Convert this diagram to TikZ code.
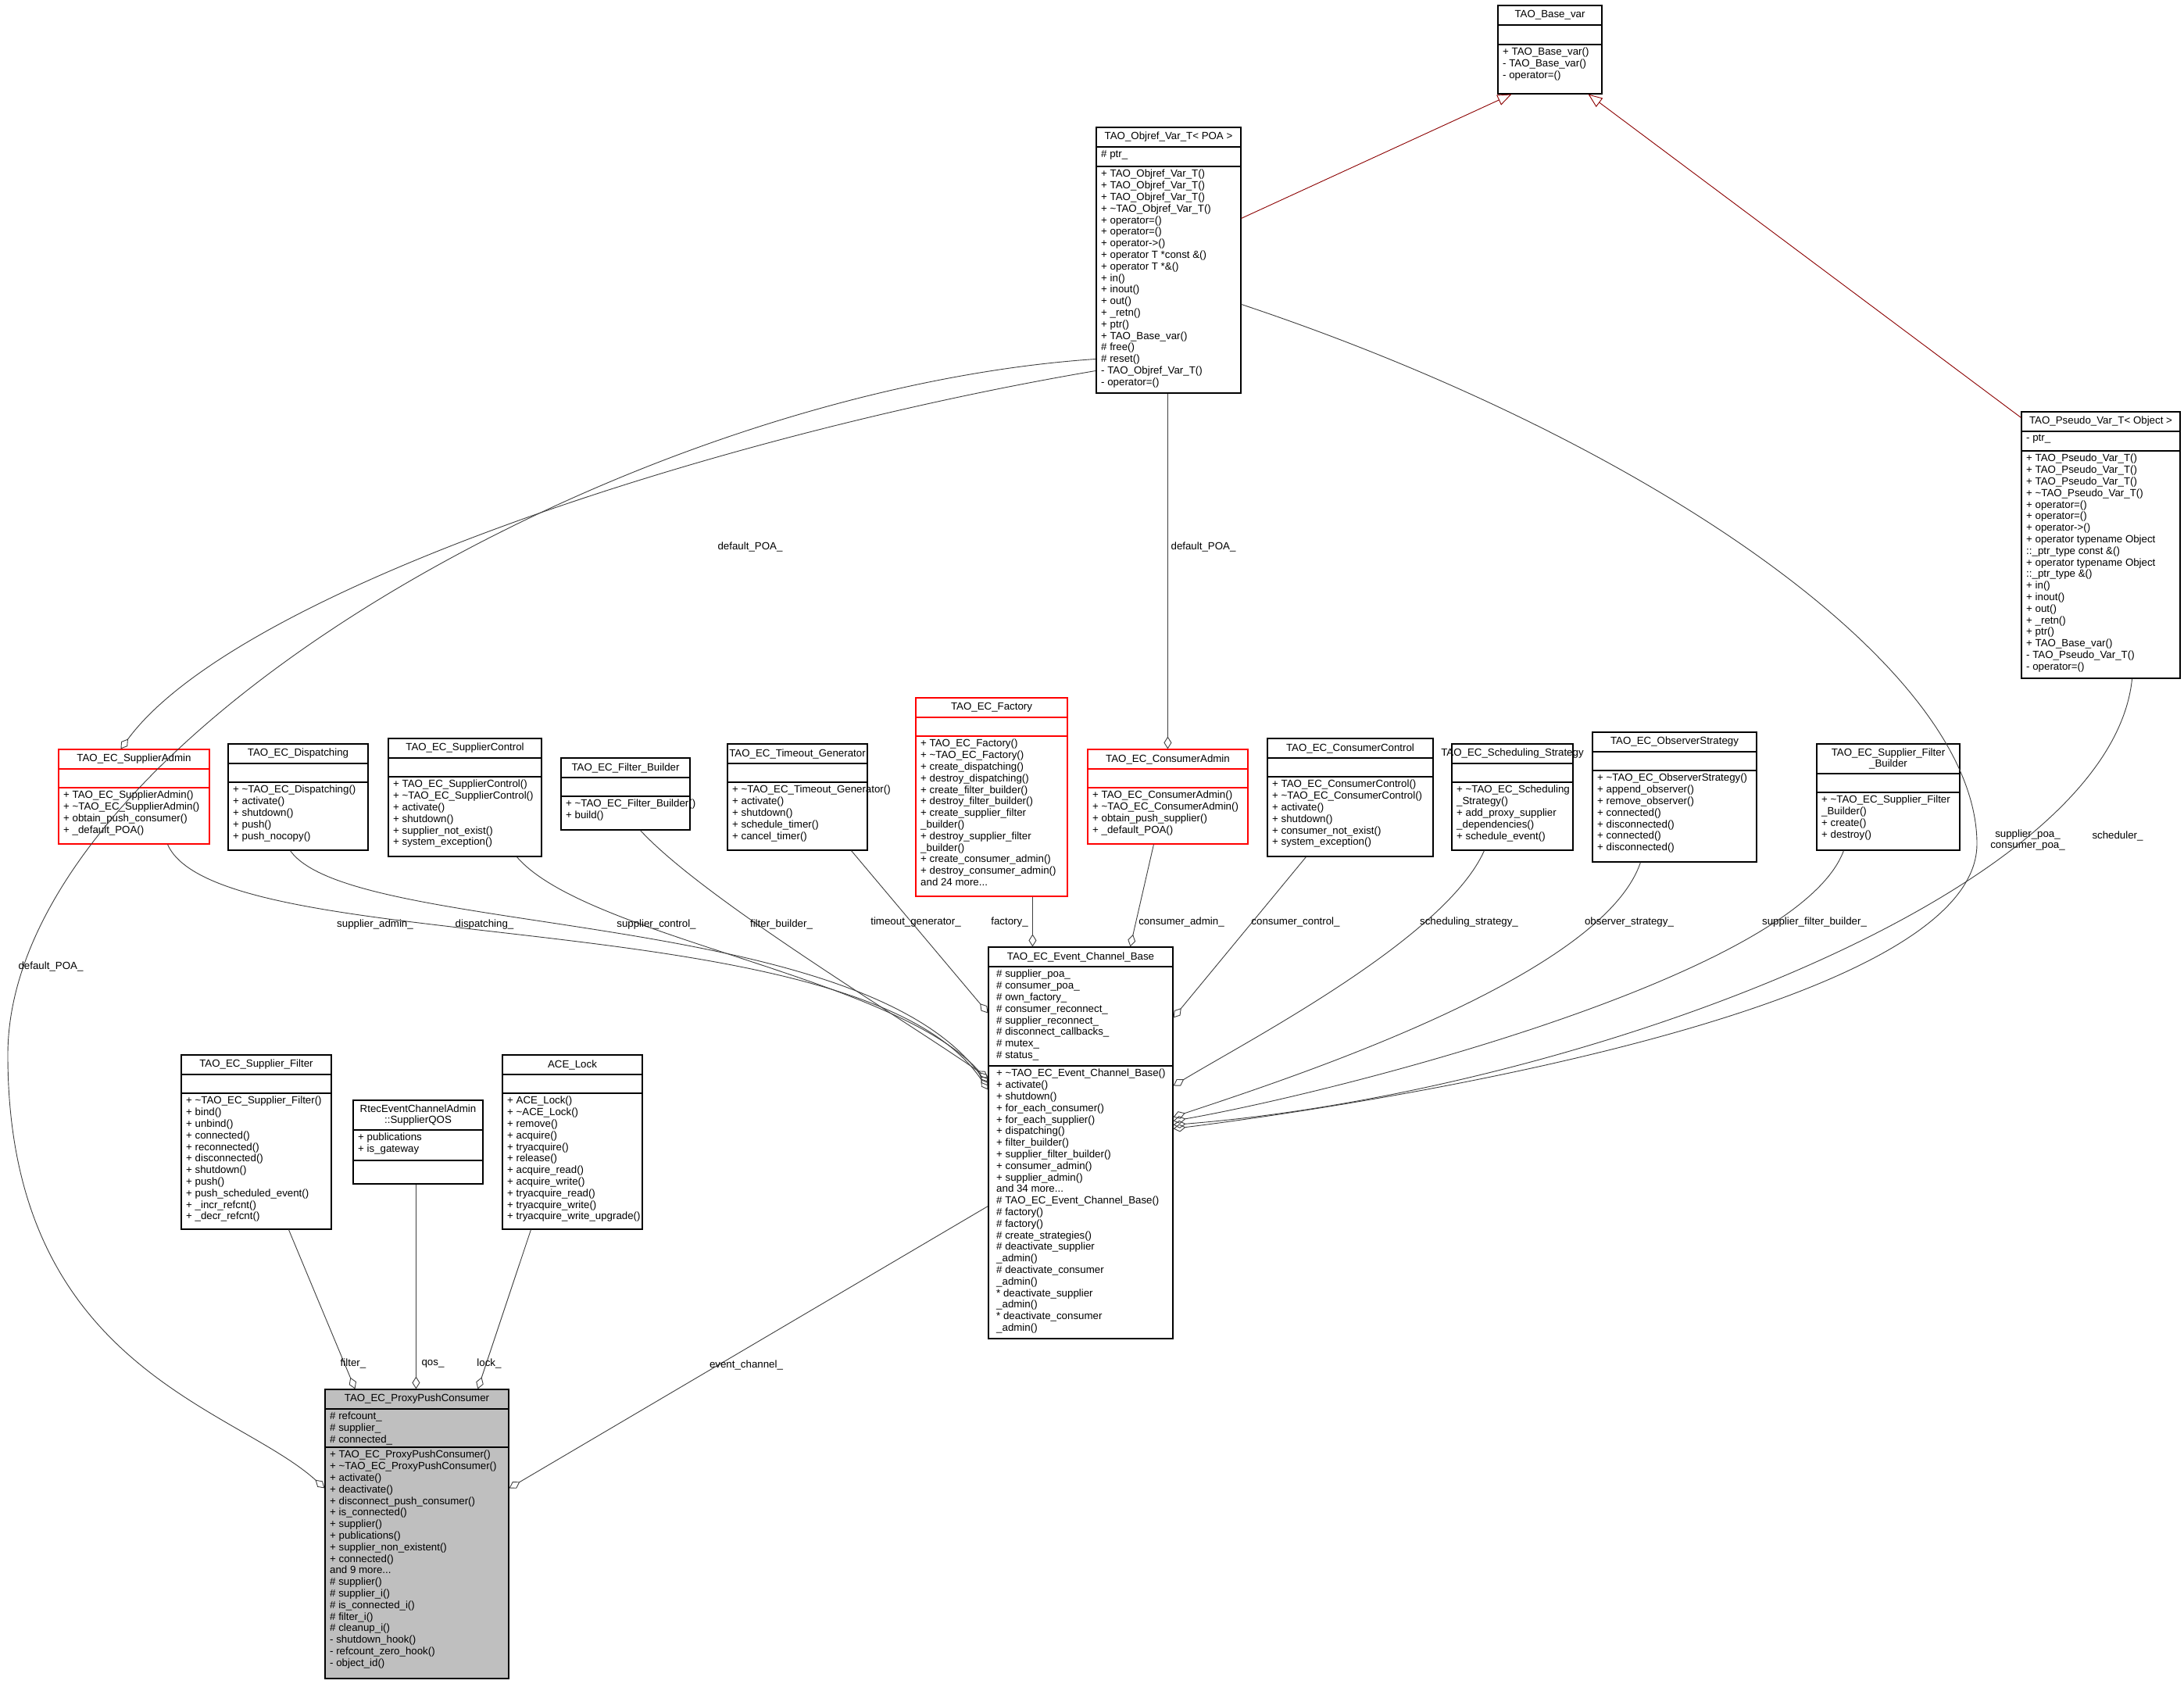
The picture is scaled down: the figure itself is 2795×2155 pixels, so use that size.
\documentclass[tikz,border=0pt]{standalone}
\usepackage{fontspec}
\setmainfont{Liberation Sans}
\usetikzlibrary{arrows.meta,fit}
\tikzset{
 mem/.style={anchor=north west,inner sep=0pt,align=left,font=\fontsize{13.3}{14.8}\selectfont},
 ttl/.style={inner sep=0pt,align=center,font=\fontsize{13.3}{14.8}\selectfont},
 lbl/.style={inner sep=0pt,font=\fontsize{13.3}{14.8}\selectfont},
 agg/.style={draw=black!75,line width=0.9pt,-{Diamond[open,length=16,width=10]}},
 inh/.style={draw=red!55!black,line width=0.9pt,-{Triangle[open,length=18,width=14]}},
}
\newcommand\umlbox[9]{%
 \node[name=#1,draw=#2,line width=1.1pt,fill=\boxfill,fit={(#3,#4)(#5,#8)},inner sep=0pt]{};
 \draw[#2,line width=1.1pt] (#3,#6)--(#5,#6) (#3,#7)--(#5,#7);
 \node[ttl] at ({(#3+#5)/2},{(#4+#6)/2}) {#9};}
\newcommand\boxfill{white}
\begin{document}
\begin{tikzpicture}[x=1pt,y=-1pt]
\useasboundingbox (0,0) rectangle (2795,2155);
\fill[white] (0,0) rectangle (2795,2155);
% boxes
\umlbox{base}{black}{1917}{7}{2050}{32}{57}{120}{TAO\_Base\_var}
\node[mem] at (1923,61) {+ TAO\_Base\_var()\\- TAO\_Base\_var()\\- operator=()};
\umlbox{objref}{black}{1403}{163}{1588}{188}{213}{503}{TAO\_Objref\_Var\_T< POA >}
\node[mem] at (1409,192) {\# ptr\_};
\node[mem] at (1409,217) {+ TAO\_Objref\_Var\_T()\\+ TAO\_Objref\_Var\_T()\\+ TAO\_Objref\_Var\_T()\\+ \textasciitilde TAO\_Objref\_Var\_T()\\+ operator=()\\+ operator=()\\+ operator->()\\+ operator T *const \&()\\+ operator T *\&()\\+ in()\\+ inout()\\+ out()\\+ \_retn()\\+ ptr()\\+ TAO\_Base\_var()\\\# free()\\\# reset()\\- TAO\_Objref\_Var\_T()\\- operator=()};
\umlbox{pseudo}{black}{2587}{527}{2790}{552}{577}{868}{TAO\_Pseudo\_Var\_T< Object >}
\node[mem] at (2593,556) {- ptr\_};
\node[mem] at (2593,581) {+ TAO\_Pseudo\_Var\_T()\\+ TAO\_Pseudo\_Var\_T()\\+ TAO\_Pseudo\_Var\_T()\\+ \textasciitilde TAO\_Pseudo\_Var\_T()\\+ operator=()\\+ operator=()\\+ operator->()\\+ operator typename Object\\::\_ptr\_type const \&()\\+ operator typename Object\\::\_ptr\_type \&()\\+ in()\\+ inout()\\+ out()\\+ \_retn()\\+ ptr()\\+ TAO\_Base\_var()\\- TAO\_Pseudo\_Var\_T()\\- operator=()};
\umlbox{supadmin}{red}{75}{959}{268}{984}{1008}{1080}{TAO\_EC\_SupplierAdmin}
\node[mem] at (81,1012) {+ TAO\_EC\_SupplierAdmin()\\+ \textasciitilde TAO\_EC\_SupplierAdmin()\\+ obtain\_push\_consumer()\\+ \_default\_POA()};
\umlbox{disp}{black}{292}{952}{471}{977}{1001}{1088}{TAO\_EC\_Dispatching}
\node[mem] at (298,1005) {+ \textasciitilde TAO\_EC\_Dispatching()\\+ activate()\\+ shutdown()\\+ push()\\+ push\_nocopy()};
\umlbox{supctrl}{black}{497}{945}{693}{970}{994}{1096}{TAO\_EC\_SupplierControl}
\node[mem] at (503,998) {+ TAO\_EC\_SupplierControl()\\+ \textasciitilde TAO\_EC\_SupplierControl()\\+ activate()\\+ shutdown()\\+ supplier\_not\_exist()\\+ system\_exception()};
\umlbox{filtb}{black}{718}{970}{883}{995}{1019}{1062}{TAO\_EC\_Filter\_Builder}
\node[mem] at (724,1023) {+ \textasciitilde TAO\_EC\_Filter\_Builder()\\+ build()};
\umlbox{timeout}{black}{931}{952}{1110}{977}{1001}{1088}{TAO\_EC\_Timeout\_Generator}
\node[mem] at (937,1005) {+ \textasciitilde TAO\_EC\_Timeout\_Generator()\\+ activate()\\+ shutdown()\\+ schedule\_timer()\\+ cancel\_timer()};
\umlbox{factory}{red}{1172}{893}{1366}{918}{942}{1147}{TAO\_EC\_Factory}
\node[mem] at (1178,946) {+ TAO\_EC\_Factory()\\+ \textasciitilde TAO\_EC\_Factory()\\+ create\_dispatching()\\+ destroy\_dispatching()\\+ create\_filter\_builder()\\+ destroy\_filter\_builder()\\+ create\_supplier\_filter\\\_builder()\\+ destroy\_supplier\_filter\\\_builder()\\+ create\_consumer\_admin()\\+ destroy\_consumer\_admin()\\and 24 more...};
\umlbox{consadmin}{red}{1392}{959}{1597}{984}{1008}{1080}{TAO\_EC\_ConsumerAdmin}
\node[mem] at (1398,1012) {+ TAO\_EC\_ConsumerAdmin()\\+ \textasciitilde TAO\_EC\_ConsumerAdmin()\\+ obtain\_push\_supplier()\\+ \_default\_POA()};
\umlbox{consctrl}{black}{1622}{945}{1834}{970}{994}{1096}{TAO\_EC\_ConsumerControl}
\node[mem] at (1628,998) {+ TAO\_EC\_ConsumerControl()\\+ \textasciitilde TAO\_EC\_ConsumerControl()\\+ activate()\\+ shutdown()\\+ consumer\_not\_exist()\\+ system\_exception()};
\umlbox{sched}{black}{1858}{952}{2013}{977}{1001}{1088}{TAO\_EC\_Scheduling\_Strategy}
\node[mem] at (1864,1005) {+ \textasciitilde TAO\_EC\_Scheduling\\\_Strategy()\\+ add\_proxy\_supplier\\\_dependencies()\\+ schedule\_event()};
\umlbox{obs}{black}{2038}{937}{2248}{962}{986}{1103}{TAO\_EC\_ObserverStrategy}
\node[mem] at (2044,990) {+ \textasciitilde TAO\_EC\_ObserverStrategy()\\+ append\_observer()\\+ remove\_observer()\\+ connected()\\+ disconnected()\\+ connected()\\+ disconnected()};
\umlbox{sfb}{black}{2325}{952}{2508}{990}{1014}{1088}{TAO\_EC\_Supplier\_Filter\\\_Builder}
\node[mem] at (2331,1018) {+ \textasciitilde TAO\_EC\_Supplier\_Filter\\\_Builder()\\+ create()\\+ destroy()};
\umlbox{ecb}{black}{1265}{1212}{1501}{1237}{1364}{1713}{TAO\_EC\_Event\_Channel\_Base}
\node[mem] at (1275,1241) {\# supplier\_poa\_\\\# consumer\_poa\_\\\# own\_factory\_\\\# consumer\_reconnect\_\\\# supplier\_reconnect\_\\\# disconnect\_callbacks\_\\\# mutex\_\\\# status\_};
\node[mem] at (1275,1368) {+ \textasciitilde TAO\_EC\_Event\_Channel\_Base()\\+ activate()\\+ shutdown()\\+ for\_each\_consumer()\\+ for\_each\_supplier()\\+ dispatching()\\+ filter\_builder()\\+ supplier\_filter\_builder()\\+ consumer\_admin()\\+ supplier\_admin()\\and 34 more...\\\# TAO\_EC\_Event\_Channel\_Base()\\\# factory()\\\# factory()\\\# create\_strategies()\\\# deactivate\_supplier\\\_admin()\\\# deactivate\_consumer\\\_admin()\\* deactivate\_supplier\\\_admin()\\* deactivate\_consumer\\\_admin()};
\umlbox{supfilter}{black}{232}{1350}{424}{1375}{1399}{1573}{TAO\_EC\_Supplier\_Filter}
\node[mem] at (238,1403) {+ \textasciitilde TAO\_EC\_Supplier\_Filter()\\+ bind()\\+ unbind()\\+ connected()\\+ reconnected()\\+ disconnected()\\+ shutdown()\\+ push()\\+ push\_scheduled\_event()\\+ \_incr\_refcnt()\\+ \_decr\_refcnt()};
\umlbox{qos}{black}{452}{1408}{618}{1446}{1485}{1515}{RtecEventChannelAdmin\\::SupplierQOS}
\node[mem] at (458,1450) {+ publications\\+ is\_gateway};
\umlbox{acelock}{black}{643}{1350}{822}{1375}{1399}{1573}{ACE\_Lock}
\node[mem] at (649,1403) {+ ACE\_Lock()\\+ \textasciitilde ACE\_Lock()\\+ remove()\\+ acquire()\\+ tryacquire()\\+ release()\\+ acquire\_read()\\+ acquire\_write()\\+ tryacquire\_read()\\+ tryacquire\_write()\\+ tryacquire\_write\_upgrade()};
\renewcommand\boxfill{black!25}
\umlbox{proxy}{black}{416}{1778}{651}{1803}{1852}{2148}{TAO\_EC\_ProxyPushConsumer}
\node[mem] at (422,1807) {\# refcount\_\\\# supplier\_\\\# connected\_};
\node[mem] at (422,1856) {+ TAO\_EC\_ProxyPushConsumer()\\+ \textasciitilde TAO\_EC\_ProxyPushConsumer()\\+ activate()\\+ deactivate()\\+ disconnect\_push\_consumer()\\+ is\_connected()\\+ supplier()\\+ publications()\\+ supplier\_non\_existent()\\+ connected()\\and 9 more...\\\# supplier()\\\# supplier\_i()\\\# is\_connected\_i()\\\# filter\_i()\\\# cleanup\_i()\\- shutdown\_hook()\\- refcount\_zero\_hook()\\- object\_id()};
% inheritance
\draw[inh] ([shift={(0,117)}]objref.north east) -- ([shift={(18,0)}]base.south west);
\draw[inh] ([shift={(0,8)}]pseudo.north west) -- ([shift={(-18,0)}]base.south east);
% aggregations
\draw[agg] ([shift={(0,297)}]objref.north west) .. controls (800,500) and (10,950) .. (10,1350) .. controls (10,1750) and (300,1800) .. ([shift={(0,127)}]proxy.north west);
\node[lbl] at (65,1237) {default\_POA\_};
\draw[agg] ([shift={(0,312)}]objref.north west) .. controls (900,560) and (300,760) .. ([shift={(80,0)}]supadmin.north west);
\node[lbl] at (960,700) {default\_POA\_};
\draw[agg] ([shift={(92,0)}]objref.south west) -- ([shift={(103,0)}]consadmin.north west);
\node[lbl] at (1540,700) {default\_POA\_};
\draw[agg] ([shift={(0,227)}]objref.north east) .. controls (2100,560) and (2530,850) .. (2530,1080) .. controls (2530,1300) and (1700,1420) .. ([shift={(0,233)}]ecb.north east);
\node[lbl,align=center] at (2595,1075) {supplier\_poa\_\\consumer\_poa\_};
\draw[agg] ([shift={(-62,0)}]pseudo.south east) .. controls (2700,1150) and (2000,1400) .. ([shift={(0,228)}]ecb.north east);
\node[lbl] at (2710,1070) {scheduler\_};
\draw[agg] ([shift={(140,0)}]supadmin.south west) .. controls (280,1230) and (1100,1150) .. ([shift={(0,183)}]ecb.north west);
\node[lbl] at (480,1183) {supplier\_admin\_};
\draw[agg] ([shift={(80,0)}]disp.south west) .. controls (450,1200) and (1100,1160) .. ([shift={(0,178)}]ecb.north west);
\node[lbl] at (620,1183) {dispatching\_};
\draw[agg] ([shift={(165,0)}]supctrl.south west) .. controls (750,1200) and (1150,1250) .. ([shift={(0,173)}]ecb.north west);
\node[lbl] at (840,1183) {supplier\_control\_};
\draw[agg] ([shift={(102,0)}]filtb.south west) .. controls (900,1150) and (1150,1300) .. ([shift={(0,168)}]ecb.north west);
\node[lbl] at (1000,1183) {filter\_builder\_};
\draw[agg] ([shift={(159,0)}]timeout.south west) -- ([shift={(0,85)}]ecb.north west);
\node[lbl] at (1172,1180) {timeout\_generator\_};
\draw[agg] ([shift={(150,0)}]factory.south west) -- ([shift={(57,0)}]ecb.north west);
\node[lbl] at (1292,1180) {factory\_};
\draw[agg] ([shift={(85,0)}]consadmin.south west) -- ([shift={(182,0)}]ecb.north west);
\node[lbl] at (1512,1180) {consumer\_admin\_};
\draw[agg] ([shift={(50,0)}]consctrl.south west) -- ([shift={(0,91)}]ecb.north east);
\node[lbl] at (1658,1180) {consumer\_control\_};
\draw[agg] ([shift={(42,0)}]sched.south west) .. controls (1850,1200) and (1600,1330) .. ([shift={(0,178)}]ecb.north east);
\node[lbl] at (1880,1180) {scheduling\_strategy\_};
\draw[agg] ([shift={(62,0)}]obs.south west) .. controls (2050,1250) and (1650,1380) .. ([shift={(0,218)}]ecb.north east);
\node[lbl] at (2085,1180) {observer\_strategy\_};
\draw[agg] ([shift={(35,0)}]sfb.south west) .. controls (2300,1250) and (1700,1400) .. ([shift={(0,223)}]ecb.north east);
\node[lbl] at (2322,1180) {supplier\_filter\_builder\_};
\draw[agg] ([shift={(138,0)}]supfilter.south west) -- ([shift={(39,0)}]proxy.north west);
\node[lbl] at (452,1745) {filter\_};
\draw[agg] ([shift={(81,0)}]qos.south west) -- ([shift={(117,0)}]proxy.north west);
\node[lbl] at (554,1745) {qos\_};
\draw[agg] ([shift={(37,0)}]acelock.south west) -- ([shift={(196,0)}]proxy.north west);
\node[lbl] at (626,1745) {lock\_};
\draw[agg] ([shift={(0,332)}]ecb.north west) -- ([shift={(0,127)}]proxy.north east);
\node[lbl] at (955,1747) {event\_channel\_};
\end{tikzpicture}
\end{document}
